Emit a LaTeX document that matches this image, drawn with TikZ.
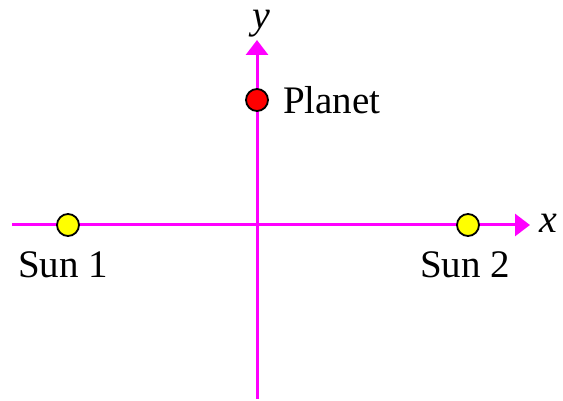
\documentclass[tikz,border=0pt]{standalone}
\usepackage{fontspec}
\setmainfont{Liberation Serif}
\usetikzlibrary{arrows.meta}
\definecolor{orAxis}{HTML}{FF00FF}
\definecolor{orPlanet}{HTML}{FF0000}
\definecolor{orSun}{HTML}{FFFF00}
\tikzset{
  every node/.style={font=\fontsize{19.5}{23}\selectfont, text=black},
  axis/.style={-{Triangle[length=7.5pt,width=11pt]}, line width=1.5pt,
    color=orAxis},
  body/.style={circle, draw=black, line width=0.9pt, minimum size=11pt,
    inner sep=0pt},
  axisName/.style={font=\fontsize{20}{24}\selectfont\itshape, inner sep=1pt},
}

\begin{document}
\begin{tikzpicture}[x=0.5pt,y=0.5pt]
  \useasboundingbox (0,0) rectangle (563,401);

  % Axes.
  \coordinate (xstart) at (12,176);
  \coordinate (xend) at (530,176);
  \coordinate (ystart) at (257,2);
  \coordinate (yend) at (257,361);
  \draw[axis] (xstart) -- (xend);
  \draw[axis] (ystart) -- (yend);
  \node[axisName] (xlabel) at (548,178) {x};
  \node[axisName] (ylabel) at (261,377) {y};

  % Bodies.
  \node[body, fill=orPlanet] (planet) at (257,301) {};
  \node[anchor=west] (planetlabel) at (276,301) {Planet};
  \node[body, fill=orSun] (sunA) at (68,176) {};
  \node (sunAlabel) at (63,136) {Sun 1};
  \node[body, fill=orSun] (sunB) at (468,176) {};
  \node (sunBlabel) at (465,136) {Sun 2};
\end{tikzpicture}
\end{document}
